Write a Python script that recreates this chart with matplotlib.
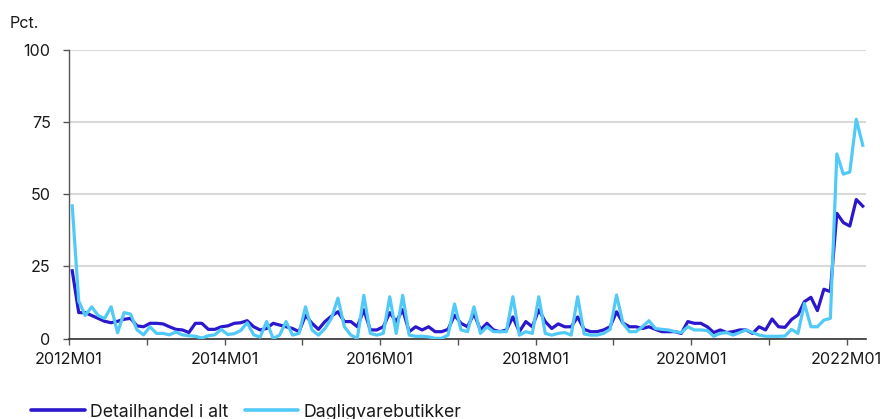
import matplotlib
matplotlib.use("Agg")
import matplotlib.pyplot as plt
from matplotlib.lines import Line2D
import numpy as np

start_year = 2012
n_months = 123  # 2012M01 .. 2022M03

detailhandel = [
    23.5, 9, 9, 8, 7, 6, 5.5, 6, 6.7, 7, 4.4, 4.1,
    5.3, 5.3, 5.1, 4.1, 3.2, 3, 2.1, 5.3, 5.3, 3.2, 3.2, 4.1,
    4.4, 5.3, 5.5, 6.2, 4.1, 3, 3.5, 5.3, 4.7, 4.1, 3.5, 2.4,
    8.1, 5.3, 3.2, 5.9, 7.8, 9.3, 5.9, 5.9, 4.1, 10, 3, 3,
    4.1, 9, 5.9, 10, 2.4, 4.1, 3, 4.1, 2.4, 2.4, 3.2, 8.1,
    5.3, 4.1, 8.7, 3, 5.3, 3, 2.4, 3, 7.5, 2.4, 5.9, 4.1,
    10, 5.9, 3.5, 5.1, 4.1, 4.1, 7.5, 3.2, 2.4, 2.4, 3, 4.1,
    9.3, 5.4, 4.1, 4.1, 3.5, 4.1, 3.2, 2.4, 2.4, 2.4, 1.8, 5.9,
    5.3, 5.3, 4.1, 2.1, 3, 2.1, 2.4, 3, 3, 1.8, 4.1, 3,
    6.8, 4.1, 3.9, 6.6, 8.2, 12.8, 14.3, 9.7, 17.1, 16.3, 43.4, 40.2,
    39, 48.2, 45.9,
]

dagligvare = [
    46, 13, 8, 11, 8, 7, 11, 2, 9, 8.5, 3, 1.3,
    4.1, 1.8, 1.8, 1.3, 2.3, 1.3, 1, 0.8, 0.2, 1, 1.3, 3.2,
    1.4, 1.7, 2.8, 5.5, 1.3, 0.5, 5.9, 0, 1.2, 5.9, 1.2, 1.8,
    11, 3, 1.2, 3.5, 7, 14, 4.1, 1.2, 0.1, 15, 1.8, 1.2,
    1.8, 14.5, 1.8, 15, 1.2, 0.8, 0.8, 0.6, 0.1, 0.1, 1.2, 12,
    3, 2.4, 11, 1.8, 4.1, 2.4, 2.4, 2.4, 14.5, 1.2, 2.4, 1.8,
    14.5, 1.8, 1.2, 1.8, 2.1, 1.2, 14.5, 1.6, 1.2, 1.2, 1.8, 3.2,
    15.1, 5.3, 2.4, 2.4, 4.1, 6.2, 3.5, 3.2, 3, 2.4, 2.1, 4.1,
    3, 3, 2.8, 0.8, 1.8, 2.1, 1.2, 2.1, 3, 2.1, 1.2, 0.8,
    0.8, 0.8, 0.9, 3.2, 1.8, 12.2, 4.1, 4.1, 6.4, 7, 64, 57,
    57.7, 76, 67,
]

series_names = ["Detailhandel i alt", "Dagligvarebutikker"]
y_ticks = [0, 25, 50, 75, 100]
label_years = [2012, 2014, 2016, 2018, 2020, 2022]

dark = "#2B17CC"
light = "#52CAF7"
colors = [dark, light]
text_color = "#1a1a1a"
fs = 11.6
fs_leg = 12.8

plt.rcParams['font.family'] = ['Inter', 'DejaVu Sans']

W, H = 888, 419
fig = plt.figure(figsize=(W / 100, H / 100), dpi=100)
ax = fig.add_axes([69 / W, 1 - 338.6 / H, (866 - 69) / W, (338.6 - 50) / H])

x = np.arange(n_months) + 0.5
ax.plot(x, detailhandel, color=dark, lw=2.3, solid_joinstyle='round', zorder=3)
ax.plot(x, dagligvare, color=light, lw=2.3, solid_joinstyle='round', zorder=4)

ax.set_xlim(0, n_months)
ax.set_ylim(0, 100)
ax.set_yticks(y_ticks)
ax.set_yticklabels([str(v) for v in y_ticks], fontsize=fs, color=text_color)
ax.yaxis.grid(True, color="#d9d9d9", lw=1.5)
ax.set_axisbelow(True)

tick_pos = list(range(0, n_months, 12))
ax.set_xticks(tick_pos)
labels = []
for p in tick_pos:
    yr = start_year + p // 12
    labels.append(f"{yr}M01" if yr in label_years else "")
ax.set_xticklabels(labels, fontsize=fs, color=text_color)

ax.tick_params(axis='x', length=4.3, width=1, color="#555555", pad=5.5)
ax.tick_params(axis='y', length=4.3, width=1, color="#555555", pad=8.9)

for s in ["top", "right"]:
    ax.spines[s].set_visible(False)
ax.spines["left"].set_color("#555555")
ax.spines["bottom"].set_color("#333333")
ax.spines["left"].set_linewidth(1)
ax.spines["bottom"].set_linewidth(1.2)

fig.text(10 / W, 1 - 28.3 / H, "Pct.", fontsize=fs, color=text_color, va="baseline", ha="left")

# legend drawn at fixed pixel positions
handle_x = [(30.7, 85.0), (245.0, 297.7)]
text_x = [90.0, 303.3]
y_line = 1 - 410 / H
y_base = 1 - 416.5 / H
for name, c, (hx0, hx1), tx in zip(series_names, colors, handle_x, text_x):
    fig.add_artist(Line2D([hx0 / W, hx1 / W], [y_line, y_line], transform=fig.transFigure,
                          color=c, lw=2.6, solid_capstyle='round'))
    fig.text(tx / W, y_base, name, fontsize=fs_leg, color=text_color, va="baseline", ha="left")

fig.savefig("out.png", dpi=100)
